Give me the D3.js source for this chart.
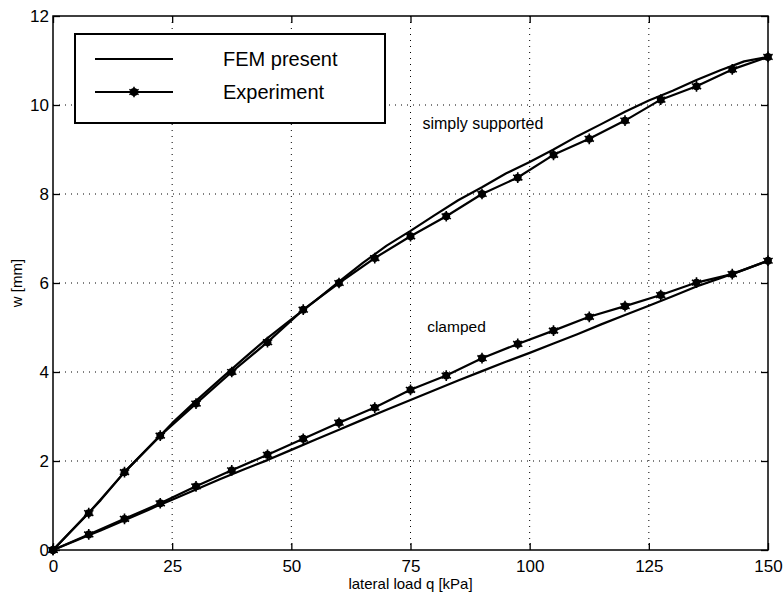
<!DOCTYPE html>
<html>
<head>
<meta charset="utf-8">
<script src="https://cdn.jsdelivr.net/npm/d3@7"></script>
<style>
  body { margin: 0; background: #fff; }
  text { font-family: Arial, "Liberation Sans", sans-serif; fill: #000; }
</style>
</head>
<body>
<div id="chart"></div>
<script>
// load q [kPa] at the measured points
var expLoad = [0, 7.5, 15, 22.5, 30, 37.5, 45, 52.5, 60, 67.5, 75, 82.5, 90, 97.5, 105, 112.5, 120, 127.5, 135, 142.5, 150];
var expSimply = [0, 0.83, 1.75, 2.57, 3.29, 4.0, 4.67, 5.4, 6.0, 6.56, 7.05, 7.5, 8.0, 8.37, 8.88, 9.24, 9.65, 10.12, 10.42, 10.8, 11.08];
var expClamped = [0, 0.35, 0.7, 1.05, 1.43, 1.79, 2.14, 2.5, 2.86, 3.2, 3.6, 3.92, 4.31, 4.63, 4.93, 5.24, 5.48, 5.73, 6.01, 6.2, 6.5];

// FEM curves
var femLoad = [0, 5, 7.5, 10, 15, 20, 22.5, 25, 30, 35, 40, 45, 50, 55, 60, 65, 70, 75, 80, 85, 90, 95, 100, 105, 110, 115, 120, 125, 130, 135, 140, 145, 150];
var femSimply = [0, 0.56, 0.84, 1.12, 1.75, 2.3, 2.57, 2.85, 3.35, 3.83, 4.3, 4.76, 5.18, 5.6, 6.03, 6.45, 6.84, 7.17, 7.52, 7.86, 8.15, 8.46, 8.72, 9.0, 9.3, 9.57, 9.85, 10.1, 10.32, 10.56, 10.78, 10.98, 11.08];
var femClamped = [0, 0.22, 0.33, 0.44, 0.67, 0.9, 1.02, 1.13, 1.36, 1.59, 1.81, 2.02, 2.25, 2.48, 2.7, 2.93, 3.15, 3.37, 3.59, 3.81, 4.02, 4.23, 4.43, 4.64, 4.85, 5.07, 5.28, 5.49, 5.7, 5.92, 6.11, 6.3, 6.5];

var xTicks = [0, 25, 50, 75, 100, 125, 150];
var yTicks = [0, 2, 4, 6, 8, 10, 12];
var legendNames = ["FEM present", "Experiment"];

var margin = {top: 16, right: 15, bottom: 46, left: 53};
var full_width = 783;
var full_height = 596;
var width = full_width - margin.left - margin.right;
var height = full_height - margin.top - margin.bottom;

var svg = d3.select("#chart")
  .append("svg")
    .attr("width", full_width)
    .attr("height", full_height)
  .append("g")
    .attr("transform", "translate(" + margin.left + "," + margin.top + ")");

var x = d3.scaleLinear().domain([0, 150]).range([0, width]);
var y = d3.scaleLinear().domain([0, 12]).range([height, 0]);

// dotted grid
svg.selectAll(".gx")
  .data(xTicks.slice(1, -1))
  .enter().append("line")
    .attr("x1", d => x(d)).attr("x2", d => x(d))
    .attr("y1", 0).attr("y2", height)
    .style("stroke", "#000").style("stroke-width", 1)
    .style("stroke-dasharray", "1,5");
svg.selectAll(".gy")
  .data(yTicks.slice(1, -1))
  .enter().append("line")
    .attr("x1", 0).attr("x2", width)
    .attr("y1", d => y(d)).attr("y2", d => y(d))
    .style("stroke", "#000").style("stroke-width", 1)
    .style("stroke-dasharray", "1,5");

// axes, ticks pointing inward, mirrored on top and right
function styleAxis(g) {
  g.select(".domain").remove();
  g.selectAll(".tick line").style("stroke-width", 1.3);
  g.selectAll("text").style("font-size", "17px").style("font-family", "Arial, 'Liberation Sans', sans-serif");
}
svg.append("g")
  .attr("transform", "translate(0," + height + ")")
  .call(d3.axisBottom(x).tickValues(xTicks).tickSizeInner(-7).tickSizeOuter(0).tickPadding(10))
  .call(styleAxis);
svg.append("g")
  .call(d3.axisLeft(y).tickValues(yTicks).tickSizeInner(-7).tickSizeOuter(0).tickPadding(4))
  .call(styleAxis);
svg.append("g")
  .call(d3.axisTop(x).tickValues(xTicks).tickSizeInner(-7).tickSizeOuter(0).tickFormat(""))
  .call(styleAxis);
svg.append("g")
  .attr("transform", "translate(" + width + ",0)")
  .call(d3.axisRight(y).tickValues(yTicks).tickSizeInner(-7).tickSizeOuter(0).tickFormat(""))
  .call(styleAxis);

svg.append("rect")
  .attr("width", width).attr("height", height)
  .style("fill", "none").style("stroke", "#000").style("stroke-width", 1.5);

// axis labels
svg.append("text")
  .attr("x", width / 2)
  .attr("y", height + 39)
  .style("text-anchor", "middle")
  .style("font-size", "15px")
  .text("lateral load q [kPa]");
svg.append("text")
  .attr("transform", "rotate(-90)")
  .attr("x", -(y(6.0) ))
  .attr("y", -31)
  .style("text-anchor", "middle")
  .style("font-size", "15px")
  .text("w [mm]");

// curves
var femLine = d3.line().x(d => x(d[0])).y(d => y(d[1]));
function drawLine(xs, ys) {
  svg.append("path")
    .datum(d3.zip(xs, ys))
    .style("fill", "none")
    .style("stroke", "#000")
    .style("stroke-width", 2.2)
    .style("stroke-linejoin", "round")
    .attr("d", femLine);
}
drawLine(femLoad, femSimply);
drawLine(femLoad, femClamped);
drawLine(expLoad, expSimply);
drawLine(expLoad, expClamped);

function drawMarkers(g, pts) {
  g.selectAll(null).data(pts).enter().append("path")
    .attr("transform", d => "translate(" + d[0] + "," + d[1] + ")")
    .attr("d", d3.symbol(d3.symbolCircle, 48))
    .style("fill", "#000");
  g.selectAll(null).data(pts).enter().append("path")
    .attr("transform", d => "translate(" + d[0] + "," + d[1] + ")")
    .attr("d", d3.symbol(d3.symbolAsterisk, 80))
    .style("fill", "none").style("stroke", "#000").style("stroke-width", 1.6);
}
var mk = svg.append("g");
drawMarkers(mk, d3.zip(expLoad, expSimply).map(d => [x(d[0]), y(d[1])]));
drawMarkers(mk, d3.zip(expLoad, expClamped).map(d => [x(d[0]), y(d[1])]));

// curve annotations
svg.append("text")
  .attr("x", x(77.5)).attr("y", y(9.45))
  .style("font-size", "16px")
  .text("simply supported");
svg.append("text")
  .attr("x", x(78.5)).attr("y", y(4.9))
  .style("font-size", "15.5px")
  .text("clamped");

// legend
var legend = svg.append("g").attr("transform", "translate(" + (75 - margin.left) + "," + (34 - margin.top) + ")");
legend.append("rect")
  .attr("width", 310).attr("height", 89)
  .style("fill", "#fff").style("stroke", "#000").style("stroke-width", 2);
legendNames.forEach(function(name, i) {
  var ly = 25 + i * 33;
  legend.append("line")
    .attr("x1", 20).attr("x2", 98).attr("y1", ly).attr("y2", ly)
    .style("stroke", "#000").style("stroke-width", 2.2);
  if (i == 1) drawMarkers(legend, [[59, ly]]);
  legend.append("text")
    .attr("x", 148).attr("y", ly + 7)
    .style("font-size", "20px")
    .text(name);
});
</script>
</body>
</html>
